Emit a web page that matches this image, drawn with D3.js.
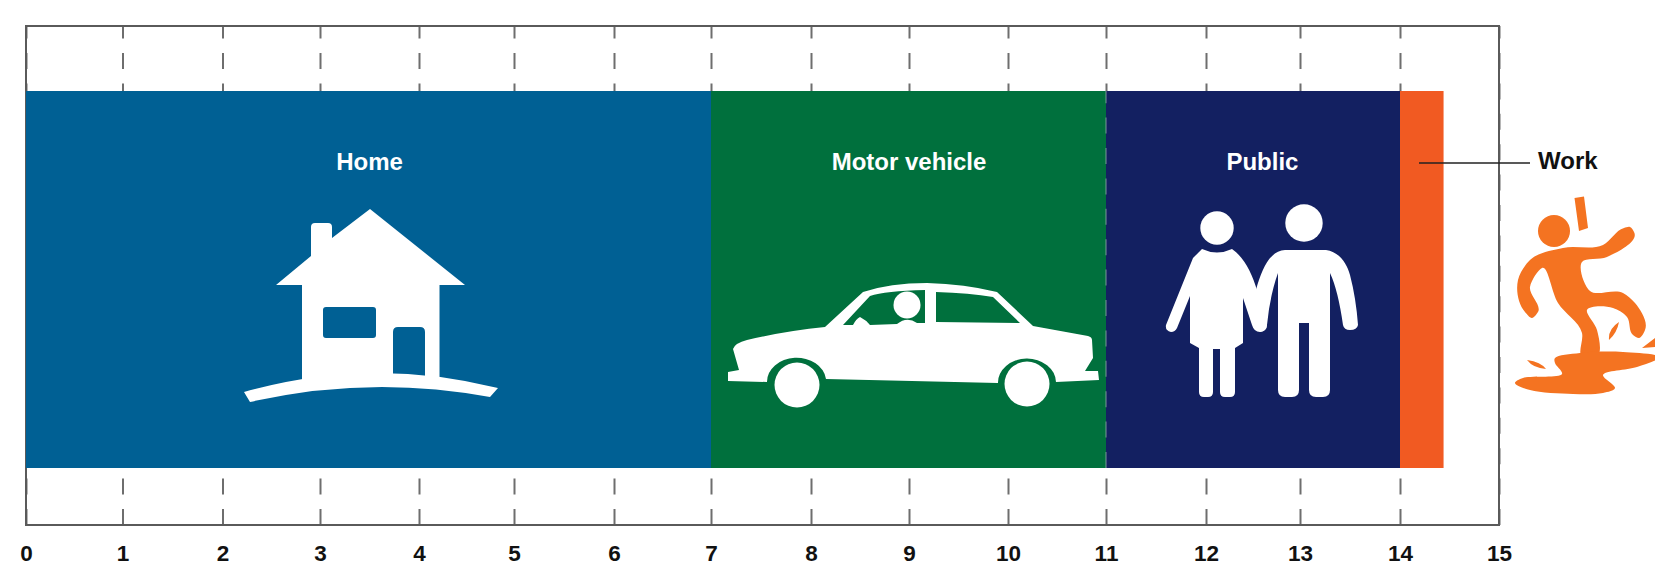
<!DOCTYPE html>
<html>
<head>
<meta charset="utf-8">
<script src="https://cdn.jsdelivr.net/npm/d3@7"></script>
<style>
  html, body { margin: 0; padding: 0; background: #fff; }
  svg { display: block; }
  text { font-family: "Liberation Sans", Arial, sans-serif; font-weight: bold; }
</style>
</head>
<body>
<div id="myChart"></div>
<script>
// data
const categories = ["Home", "Motor vehicle", "Public", "Work"];
const values = [7, 4, 3, 0.44];
const barColors = ["#006094", "#00703d", "#132061", "#f15a22"];
const labelAt = [3.5, 9, 12.6];
const tickValues = d3.range(0, 16);

const svgW = 1655, svgH = 567;
const frameTop = 26, frameBottom = 525;
const barTop = 91, barBottom = 468;

// the printed ticks are not quite evenly spaced, so the scale goes through each of them
const x = d3.scaleLinear()
  .domain(tickValues)
  .range([26, 122.5, 222.5, 320, 419, 514, 614, 711, 811, 909, 1008, 1106, 1206, 1300, 1400, 1499]);

const svg = d3.select("#myChart").append("svg")
  .attr("width", svgW)
  .attr("height", svgH);

// axis first, the bars cover the dashed lines
const axis = svg.append("g")
  .attr("transform", `translate(0,${frameBottom})`)
  .call(d3.axisBottom(x)
    .tickValues(tickValues)
    .tickFormat(d3.format("d"))
    .tickSize(-(frameBottom - frameTop))
    .tickPadding(0));
axis.select(".domain").remove();
axis.selectAll("line")
  .attr("stroke", "#6e6e6e")
  .attr("stroke-width", 2)
  .attr("stroke-dasharray", "16 14.4");
axis.selectAll("text")
  .attr("y", 36)
  .attr("dy", 0)
  .attr("fill", "#111")
  .style("font-size", "22.5px");

svg.append("rect")
  .attr("x", x(0))
  .attr("y", frameTop)
  .attr("width", x(15) - x(0))
  .attr("height", frameBottom - frameTop)
  .attr("fill", "none")
  .attr("stroke", "#5a5a5a")
  .attr("stroke-width", 2);

const ends = Array.from(d3.cumsum(values));

svg.selectAll(".bar")
  .data(categories)
  .enter()
  .append("rect")
  .attr("class", "bar")
  .attr("x", (d, i) => x(i ? ends[i - 1] : 0))
  .attr("y", barTop)
  .attr("width", (d, i) => x(ends[i]) - x(i ? ends[i - 1] : 0))
  .attr("height", barBottom - barTop)
  .attr("fill", (d, i) => barColors[i]);

// faint dashes show through on the seam at 11
svg.append("line")
  .attr("x1", x(11)).attr("x2", x(11))
  .attr("y1", barBottom).attr("y2", barTop)
  .attr("stroke", "#8fa8a8")
  .attr("stroke-width", 1.2)
  .attr("stroke-opacity", 0.7)
  .attr("stroke-dasharray", "16 14.4");

svg.selectAll(".label")
  .data(categories.slice(0, 3))
  .enter()
  .append("text")
  .attr("class", "label")
  .attr("x", (d, i) => x(labelAt[i]))
  .attr("y", 170)
  .attr("text-anchor", "middle")
  .attr("fill", "#fff")
  .style("font-size", "24px")
  .text(d => d);

// Work callout
svg.append("line")
  .attr("x1", 1419).attr("x2", 1530)
  .attr("y1", 163).attr("y2", 163)
  .attr("stroke", "#222")
  .attr("stroke-width", 1.6);
svg.append("text")
  .attr("x", 1538)
  .attr("y", 169)
  .attr("fill", "#111")
  .style("font-size", "24px")
  .text(categories[3]);

// pictograms
const houseIcon = "M370 209 L465 285 H439.5 V385 H302 V285 H276 L311 256 V227 Q311 223 315 223 H328 Q332 223 332 227 V238 Z"
  + " M326 307 H373 Q376 307 376 310 V335 Q376 338 373 338 H326 Q323 338 323 335 V310 Q323 307 326 307 Z"
  + " M393 332 Q393 327 398 327 H420 Q425 327 425 332 V380 H393 Z";
const groundIcon = "M244 392 Q370 356 498 388 L490 397 Q370 374.5 250 402 Z";

const carIcon = "M728 372 L739 370 L733 349 Q735 343 747 340 Q785 331 825 327 L863 292 Q890 283 927 283 Q965 284 997 292 L1033 326 L1088 336 Q1092 337 1092 340 L1093 358 L1085 371 H1098 L1099 380 L1056 382 A29 24 0 0 0 998 383 L826 379 A29.6 24 0 0 0 767 382 L728 381 Z"
  + " M843 325 L870 296 Q885 291 925 290 V323 L917 323 Q907 316 897 324 L870 325 Q866 320 860 317 Q856 319 853 325 Z"
  + " M936 292 Q970 293 993 297 L1020 323 L936 322 Z";

const carCircles = [[797, 385, 22.5], [1027, 384, 22.5], [907, 305, 13.5]];

const headCircles = [[1217, 228, 16.7], [1304, 223, 18.7]];

const womanIcon = "M1202 249 Q1217 256 1232 249 C1245 258 1252 274 1257 290 L1267 325 Q1267 331 1260 332 Q1254 332 1252 325 L1243 298 V343 L1235 348 V392 Q1235 397 1230 397 H1225 Q1220 397 1220 392 V349 H1213 V392 Q1213 397 1208 397 H1204 Q1199 397 1199 392 V348 L1190 343 V296 L1177 328 Q1175 332 1171 332 Q1165 331 1166 325 L1193 258 Z";

const manIcon = "M1285 250 H1326 C1340 252 1347 264 1350 275 Q1356 298 1358 325 Q1357 330 1350 330 Q1344 330 1343 325 Q1338 290 1330 273 V390 Q1330 397 1323 397 H1316 Q1309 397 1309 390 V323 H1299 V390 Q1299 397 1292 397 H1285 Q1278 397 1278 390 V273 Q1270 295 1267 325 Q1266 331 1260 332 L1256 290 C1262 268 1270 251 1285 250 Z";

const workerBody = [[1634,232],[1630,227],[1624,228],[1603,245],[1563,248],[1530,260],[1518,280],[1525,312],[1532,318],[1538,312],[1530,287],[1542,268],[1558,303],[1582,333],[1582,356],[1597,356],[1597,330],[1587,310],[1613,308],[1627,317],[1633,335],[1639,338],[1645,330],[1635,303],[1623,293],[1590,291],[1582,262],[1607,257]];
const workerPuddle = [[1555,358],[1580,353],[1623,352],[1660,357],[1637,367],[1603,375],[1615,388],[1603,393],[1573,394],[1530,390],[1515,383],[1523,378],[1562,374],[1555,363]];
const workerDrops = "M1527 360 Q1541 362 1546 369 Q1533 368 1527 360 Z M1619 322 Q1617 333 1609 340 Q1608 329 1619 322 Z M1655 338 L1642 348 L1655 347 Z M1574.5 198 L1584 196.5 L1588 228 L1579 231 Z";
const workerHead = [1554, 231, 16];

const blob = d3.line().curve(d3.curveCatmullRomClosed.alpha(1));
const puddle = d3.line().curve(d3.curveCatmullRomClosed.alpha(0.5));

const icons = svg.append("g").attr("fill", "#fff");
icons.append("path").attr("d", houseIcon).attr("fill-rule", "evenodd");
icons.append("path").attr("d", groundIcon);
icons.append("path").attr("d", carIcon).attr("fill-rule", "evenodd");
icons.append("path").attr("d", womanIcon);
icons.append("path").attr("d", manIcon);
icons.selectAll("circle")
  .data(carCircles.concat(headCircles))
  .enter()
  .append("circle")
  .attr("cx", d => d[0])
  .attr("cy", d => d[1])
  .attr("r", d => d[2]);

const worker = svg.append("g").attr("fill", "#f47321");
worker.append("path").attr("d", blob(workerBody));
worker.append("path").attr("d", puddle(workerPuddle));
worker.append("path").attr("d", workerDrops);
worker.append("circle")
  .attr("cx", workerHead[0])
  .attr("cy", workerHead[1])
  .attr("r", workerHead[2]);
</script>
</body>
</html>
